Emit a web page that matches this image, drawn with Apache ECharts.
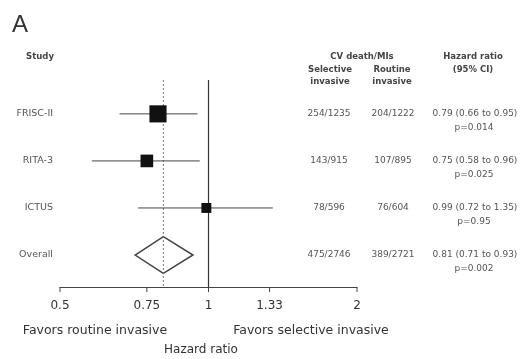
<!DOCTYPE html>
<html><head><meta charset="utf-8">
<script src="https://cdn.jsdelivr.net/npm/echarts@6/dist/echarts.min.js"></script>
<style>html,body{margin:0;padding:0;background:#fff}#c{width:520px;height:359px}</style>
</head><body><div id="c"></div>
<script>
const studies = ['FRISC-II', 'RITA-3', 'ICTUS', 'Overall'];
const hr = [0.79, 0.75, 0.99, 0.81];
const ciLow = [0.66, 0.58, 0.72, 0.71];
const ciHigh = [0.95, 0.96, 1.35, 0.93];
const selEvents = [254, 143, 78, 475];
const selTotal = [1235, 915, 596, 2746];
const rouEvents = [204, 107, 76, 389];
const rouTotal = [1222, 895, 604, 2721];
const pValues = ['0.014', '0.025', '0.95', '0.002'];
const tickValues = [0.5, 0.75, 1, 1.33, 2];
const tickLabels = ['0.5', '0.75', '1', '1.33', '2'];

const FONT = '"DejaVu Sans", Verdana, sans-serif';
const chart = echarts.init(document.getElementById('c'));
const nStudies = 3;

const ciData = [];
for (let i = 0; i < nStudies; i++) {
  const ev = selEvents[i] + rouEvents[i];
  ciData.push([i, ciLow[i], ciHigh[i], hr[i], 0.8 * Math.sqrt(ev)]);
}
const ov = 3;
const textData = studies.map((s, i) => [i, 0.5]);

function fmt(v){ return v.toFixed(2); }
function hdr(text, x, y, bold) {
  return { type: 'text', x: x, y: y, style: { text: text, font: (bold ? 'bold ' : '') + '8.5px ' + FONT, fill: '#444', align: 'center', verticalAlign: 'middle' } };
}

chart.setOption({
  animation: false,
  grid: { left: 60, right: 163, top: 80, height: 207 },
  xAxis: {
    type: 'log', logBase: 2, min: 0.5, max: 2,
    axisLine: { show: true, onZero: false, lineStyle: { color: '#444', width: 1 } },
    axisTick: { show: false }, axisLabel: { show: false }, splitLine: { show: false }
  },
  yAxis: {
    type: 'value', inverse: true, min: -0.72, max: 3.68, show: false
  },
  graphic: [
    { type: 'text', x: 12, y: 25, style: { text: 'A', font: '24px "Liberation Sans", Arial, sans-serif', fill: '#333', verticalAlign: 'middle' } },
    hdr('Study', 40, 57, true),
    hdr('CV death/MIs', 362, 57, true),
    hdr('Selective', 330, 70, true),
    hdr('invasive', 330, 82, true),
    hdr('Routine', 392, 70, true),
    hdr('invasive', 392, 82, true),
    hdr('Hazard ratio', 473, 57, true),
    hdr('(95% CI)', 473, 70, true),
    { type: 'text', x: 95, y: 331, style: { text: 'Favors routine invasive', font: '12.5px ' + FONT, fill: '#333', align: 'center', verticalAlign: 'middle' } },
    { type: 'text', x: 311, y: 331, style: { text: 'Favors selective invasive', font: '12.5px ' + FONT, fill: '#333', align: 'center', verticalAlign: 'middle' } },
    { type: 'text', x: 201, y: 350, style: { text: 'Hazard ratio', font: '12px ' + FONT, fill: '#333', align: 'center', verticalAlign: 'middle' } }
  ],
  series: [
    {
      type: 'custom', coordinateSystem: 'cartesian2d', z: 1,
      data: [[ov, ciLow[ov], ciHigh[ov], hr[ov]]], encode: { x: [1, 2, 3], y: 0 },
      renderItem: function (params, api) {
        const i = api.value(0);
        const l = api.coord([api.value(1), i]);
        const h = api.coord([api.value(2), i]);
        const t = api.coord([api.value(3), i - 0.39]);
        const b = api.coord([api.value(3), i + 0.39]);
        return { type: 'polygon', shape: { points: [l, t, h, b] }, style: { fill: '#fff', stroke: '#444', lineWidth: 1.5 } };
      }
    },
    {
      type: 'custom', coordinateSystem: 'cartesian2d', z: 2,
      data: [[1, -0.72, 3.68], [hr[ov], -0.72, 3.68]],
      encode: { x: 0, y: [1, 2] },
      renderItem: function (params, api) {
        const a = api.coord([api.value(0), api.value(1)]);
        const b = api.coord([api.value(0), api.value(2)]);
        const dashed = params.dataIndex === 1;
        return { type: 'line', shape: { x1: a[0], y1: a[1], x2: b[0], y2: b[1] },
          style: { stroke: dashed ? '#777' : '#333', lineWidth: dashed ? 1 : 1.2, lineDash: dashed ? [2, 2] : null } };
      }
    },
    {
      type: 'custom', coordinateSystem: 'cartesian2d', z: 3,
      data: ciData, encode: { x: [1, 2, 3], y: 0 },
      renderItem: function (params, api) {
        const i = api.value(0);
        const lo = api.coord([api.value(1), i]);
        const hi = api.coord([api.value(2), i]);
        const c = api.coord([api.value(3), i]);
        const s = api.value(4);
        return { type: 'group', children: [
          { type: 'line', shape: { x1: lo[0], y1: lo[1], x2: hi[0], y2: hi[1] }, style: { stroke: '#444', lineWidth: 1 } },
          { type: 'rect', shape: { x: c[0] - s / 2, y: c[1] - s / 2, width: s, height: s }, style: { fill: '#111' } }
        ] };
      }
    },
    {
      type: 'custom', coordinateSystem: 'cartesian2d',
      data: textData, encode: { x: 1, y: 0 },
      renderItem: function (params, api) {
        const i = api.value(0);
        const y = api.coord([0.5, i])[1];
        const st = { font: '9px ' + FONT, fill: '#555', align: 'center', verticalAlign: 'middle' };
        return { type: 'group', children: [
          { type: 'text', style: Object.assign({}, st, { text: studies[i], x: 53, y: y, align: 'right', font: '9.5px ' + FONT }) },
          { type: 'text', style: Object.assign({}, st, { text: selEvents[i] + '/' + selTotal[i], x: 329, y: y }) },
          { type: 'text', style: Object.assign({}, st, { text: rouEvents[i] + '/' + rouTotal[i], x: 393, y: y }) },
          { type: 'text', style: Object.assign({}, st, { text: fmt(hr[i]) + ' (' + fmt(ciLow[i]) + ' to ' + fmt(ciHigh[i]) + ')', x: 475, y: y }) },
          { type: 'text', style: Object.assign({}, st, { text: 'p=' + pValues[i], x: 474, y: y + 14 }) }
        ] };
      }
    },
    {
      type: 'custom', coordinateSystem: 'cartesian2d',
      data: tickValues.map((v, k) => [v, 3.68, k]), encode: { x: 0, y: 1 },
      renderItem: function (params, api) {
        const p = api.coord([api.value(0), api.value(1)]);
        return { type: 'group', children: [
          { type: 'line', shape: { x1: p[0], y1: p[1], x2: p[0], y2: p[1] + 5 }, style: { stroke: '#444', lineWidth: 1 } },
          { type: 'text', style: { text: tickLabels[api.value(2)], x: p[0], y: p[1] + 19, font: '12px ' + FONT, fill: '#333', align: 'center', verticalAlign: 'middle' } }
        ] };
      }
    }
  ]
});
</script></body></html>
